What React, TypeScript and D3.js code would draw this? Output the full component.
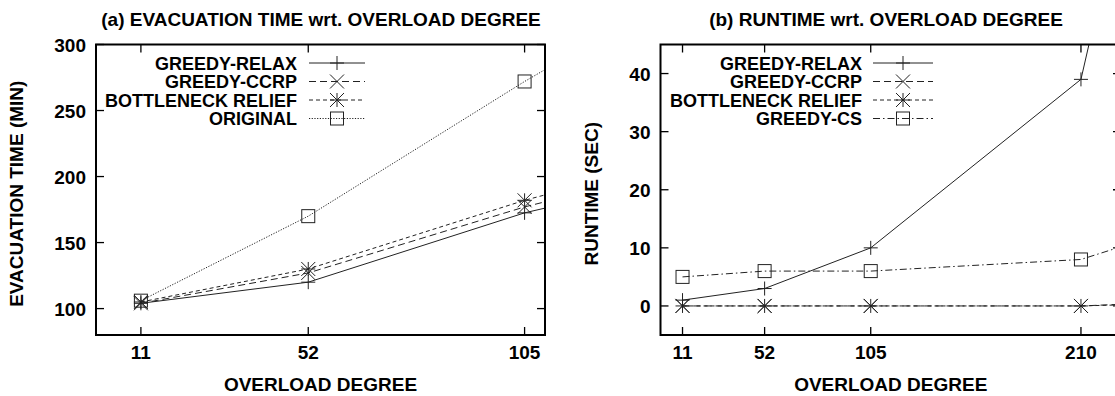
import React from "react";
import * as d3 from "d3";

// overload degree on x
const degreesA = [11, 52, 105, 210];
const relaxA = [104, 120, 172.5, 248];
const ccrpA = [104, 127, 177, 258];
const bottleneckA = [105, 130, 182, 268];
const originalA = [106, 170, 272, 460];
const xTicksA = [11, 52, 105];
const yTicksA = [100, 150, 200, 250, 300];

const degreesB = [11, 52, 105, 210, 420];
const relaxB = [1, 3, 10, 39, 354];
const ccrpB = [0, 0, 0, 0, 3];
const bottleneckB = [0, 0, 0, 0, 2];
const csB = [5, 6, 6, 8, 31];
const xTicksB = [11, 52, 105, 210];
const yTicksB = [0, 10, 20, 30, 40];

const FONT = "'Liberation Sans', Arial, Helvetica, sans-serif";
const INK = "#222";
const FS = 19;

type Series = { name: string; values: number[]; dash: string; marker: string };

function Marker({ type, x, y }: { type: string; x: number; y: number }) {
  const s = 7;
  const common = { stroke: INK, strokeWidth: 1, fill: "none" };
  if (type === "plus")
    return <path d={`M${x - s},${y}H${x + s}M${x},${y - s}V${y + s}`} {...common} />;
  if (type === "cross")
    return (
      <path
        d={`M${x - s},${y - s}L${x + s},${y + s}M${x - s},${y + s}L${x + s},${y - s}`}
        {...common}
      />
    );
  if (type === "star")
    return (
      <path
        d={`M${x - s},${y}H${x + s}M${x},${y - s}V${y + s}M${x - s},${y - s}L${x + s},${y + s}M${x - s},${y + s}L${x + s},${y - s}`}
        {...common}
      />
    );
  return <rect x={x - 6.5} y={y - 6.5} width={13} height={13} {...common} />;
}

function Panel(props: {
  id: string;
  title: string;
  yLabel: string;
  left: number;
  right: number;
  xDomain: [number, number];
  yDomain: [number, number];
  degrees: number[];
  series: Series[];
  xTicks: number[];
  yTicks: number[];
  legendTextX: number;
  legendLine: [number, number];
  yLabelX: number;
  titleX: number;
}) {
  const top = 44.5;
  const bottom = 335;
  const { left, right } = props;
  const x = d3.scaleLinear().domain(props.xDomain).range([left, right]);
  const y = d3.scaleLinear().domain(props.yDomain).range([bottom, top]);
  const line = d3
    .line<number>()
    .x((_, i) => x(props.degrees[i]))
    .y((d) => y(d));
  const tick = 8;
  const cx = (left + right) / 2;
  const legendRows = [63, 81.5, 100, 118.5];
  const txt = { fontFamily: FONT, fontWeight: "bold", fontSize: FS } as const;

  return (
    <g>
      <defs>
        <clipPath id={props.id}>
          <rect x={left} y={top} width={right - left} height={bottom - top} />
        </clipPath>
      </defs>
      <text x={props.titleX} y={26} textAnchor="middle" {...txt}>
        {props.title}
      </text>
      {props.xTicks.map((t) => (
        <g key={"x" + t}>
          <line x1={x(t)} x2={x(t)} y1={bottom} y2={bottom - tick} stroke="#000" strokeWidth={1.3} />
          <line x1={x(t)} x2={x(t)} y1={top} y2={top + tick} stroke="#000" strokeWidth={1.3} />
          <text x={x(t)} y={359} textAnchor="middle" {...txt}>
            {t}
          </text>
        </g>
      ))}
      {props.yTicks.map((t) => (
        <g key={"y" + t}>
          <line x1={left} x2={left + tick} y1={y(t)} y2={y(t)} stroke="#000" strokeWidth={1.3} />
          <line x1={right} x2={right - tick} y1={y(t)} y2={y(t)} stroke="#000" strokeWidth={1.3} />
          <text x={left - 10} y={y(t) + 7} textAnchor="end" {...txt}>
            {t}
          </text>
        </g>
      ))}
      <text x={cx} y={391} textAnchor="middle" {...txt}>
        OVERLOAD DEGREE
      </text>
      <text
        transform={`translate(${props.yLabelX},${(top + bottom) / 2 + 4}) rotate(-90)`}
        textAnchor="middle"
        {...txt}
      >
        {props.yLabel}
      </text>
      <g clipPath={`url(#${props.id})`}>
        {props.series.map((s) => (
          <g key={s.name}>
            <path d={line(s.values) || ""} fill="none" stroke={INK} strokeWidth={1} strokeDasharray={s.dash} />
            {s.values.map((v, i) => (
              <Marker key={i} type={s.marker} x={x(props.degrees[i])} y={y(v)} />
            ))}
          </g>
        ))}
      </g>
      {props.series.map((s, i) => {
        const ly = legendRows[i];
        const [l0, l1] = props.legendLine;
        return (
          <g key={"leg" + s.name}>
            <text x={props.legendTextX} y={ly + 6.5} textAnchor="end" {...txt} fontSize={18}>
              {s.name}
            </text>
            <line x1={l0} x2={l1} y1={ly} y2={ly} stroke={INK} strokeWidth={1} strokeDasharray={s.dash} />
            <Marker type={s.marker} x={(l0 + l1) / 2} y={ly} />
          </g>
        );
      })}
      <rect x={left} y={top} width={right - left} height={bottom - top} fill="none" stroke="#000" strokeWidth={2} />
    </g>
  );
}

export default function App() {
  const seriesA: Series[] = [
    { name: "GREEDY-RELAX", values: relaxA, dash: "", marker: "plus" },
    { name: "GREEDY-CCRP", values: ccrpA, dash: "7,4", marker: "cross" },
    { name: "BOTTLENECK RELIEF", values: bottleneckA, dash: "4,3", marker: "star" },
    { name: "ORIGINAL", values: originalA, dash: "1.2,1.5", marker: "box" },
  ];
  const seriesB: Series[] = [
    { name: "GREEDY-RELAX", values: relaxB, dash: "", marker: "plus" },
    { name: "GREEDY-CCRP", values: ccrpB, dash: "7,4", marker: "cross" },
    { name: "BOTTLENECK RELIEF", values: bottleneckB, dash: "4,3", marker: "star" },
    { name: "GREEDY-CS", values: csB, dash: "7,3,1.5,3", marker: "box" },
  ];
  return (
    <svg
      width={1115}
      height={396}
      style={{ position: "absolute", left: 0, top: 0, background: "#fff" }}
    >
      <Panel
        id="clipA"
        title="(a) EVACUATION TIME wrt. OVERLOAD DEGREE"
        yLabel="EVACUATION TIME (MIN)"
        left={96}
        right={545}
        xDomain={[0, 110]}
        yDomain={[80, 300]}
        degrees={degreesA}
        series={seriesA}
        xTicks={xTicksA}
        yTicks={yTicksA}
        legendTextX={297}
        legendLine={[309, 365]}
        yLabelX={23}
        titleX={321}
      />
      <Panel
        id="clipB"
        title="(b) RUNTIME wrt. OVERLOAD DEGREE"
        yLabel="RUNTIME (SEC)"
        left={660.5}
        right={1121}
        xDomain={[0, 230]}
        yDomain={[-5, 45]}
        degrees={degreesB}
        series={seriesB}
        xTicks={xTicksB}
        yTicks={yTicksB}
        legendTextX={862}
        legendLine={[873, 933]}
        yLabelX={598}
        titleX={886}
      />
    </svg>
  );
}
